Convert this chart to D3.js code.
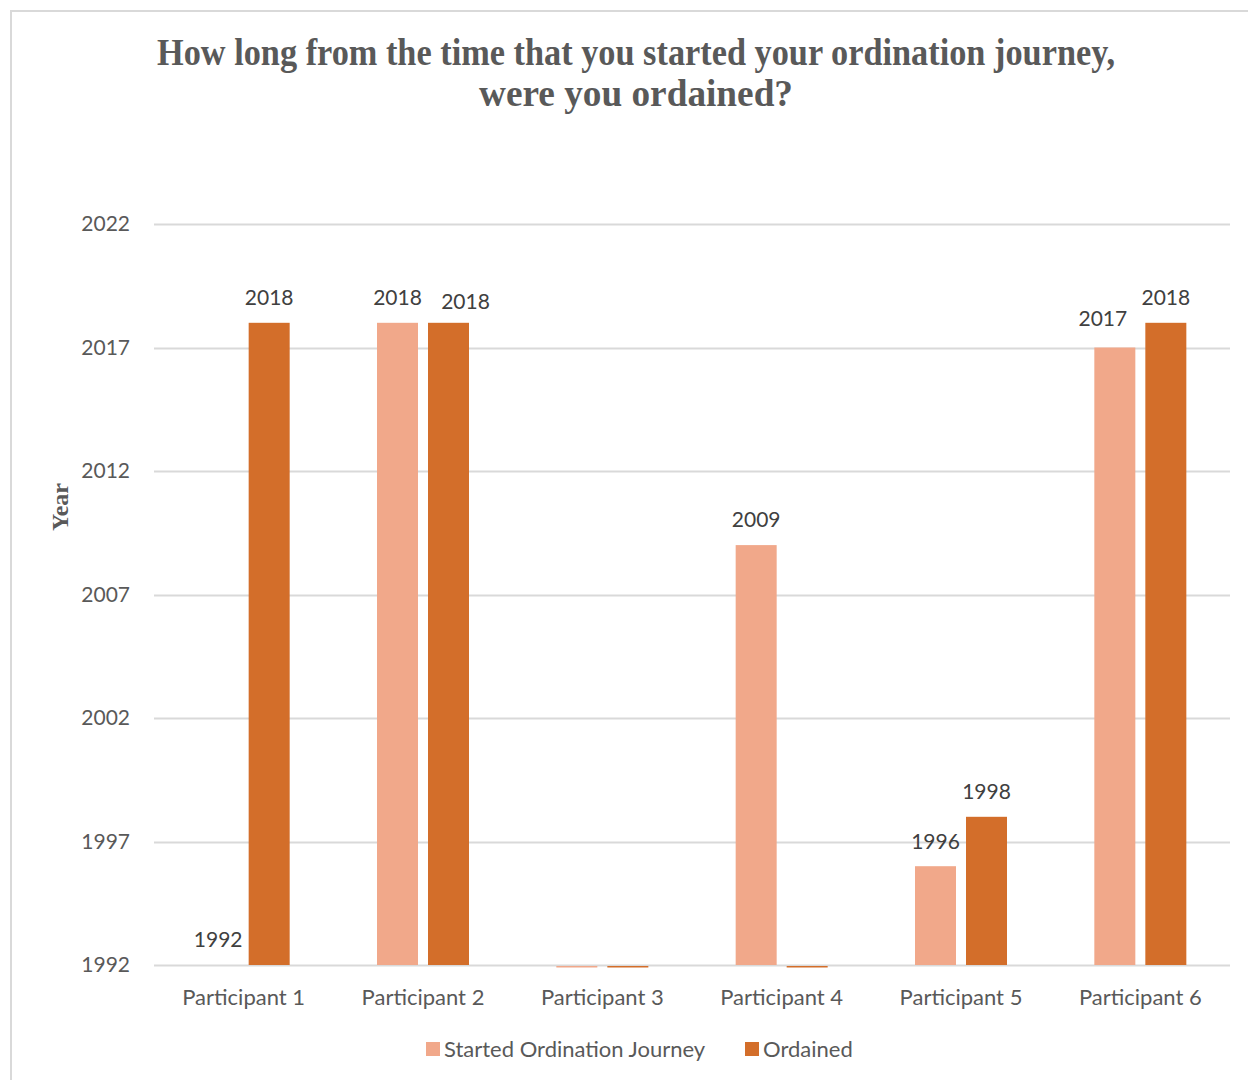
<!DOCTYPE html>
<html>
<head>
<meta charset="utf-8">
<script src="https://cdn.jsdelivr.net/npm/d3@7"></script>
<style>
  body { margin: 0; background: #fff; }
  svg text { font-family: Lato, "Open Sans", sans-serif; }
</style>
</head>
<body>
<div id="chart"></div>
<script>
// datos del grafico
const participants = ['Participant 1', 'Participant 2', 'Participant 3', 'Participant 4', 'Participant 5', 'Participant 6'];
const startedYears = [1992, 2018, null, 2009, 1996, 2017];
const ordainedYears = [2018, 2018, null, null, 1998, 2018];
const seriesNames = ['Started Ordination Journey', 'Ordained'];
const yTicks = [1992, 1997, 2002, 2007, 2012, 2017, 2022];

const colors = ['#F1A88A', '#D36E2A'];

var width = 1248;
var height = 1080;
var margin = { top: 224, right: 18, bottom: 115, left: 154 };

var svg = d3.select('#chart').append('svg')
    .attr('width', width)
    .attr('height', height);

// borde del grafico
svg.append('rect')
    .attr('x', 11).attr('y', 11)
    .attr('width', width + 20).attr('height', height + 20)
    .attr('fill', 'none')
    .attr('stroke', '#d9d9d9')
    .attr('stroke-width', 2);

// titulo
var titleLines = ['How long from the time that you started your ordination journey,', 'were you ordained?'];
var titleWidths = [958, 314];
svg.selectAll('text.title')
    .data(titleLines)
    .enter().append('text')
    .attr('class', 'title')
    .attr('x', 636)
    .attr('y', (d, i) => 65 + i * 41)
    .attr('text-anchor', 'middle')
    .attr('textLength', (d, i) => titleWidths[i])
    .attr('lengthAdjust', 'spacingAndGlyphs')
    .style('font-family', '"Liberation Serif", "Times New Roman", serif')
    .style('font-weight', 'bold')
    .style('font-size', '38px')
    .attr('fill', '#595959')
    .text(d => d);

var x = d3.scaleBand()
    .domain(participants)
    .range([margin.left, width - margin.right]);

var plotTop = margin.top;
var plotBottom = height - margin.bottom;

var y = d3.scaleLinear()
    .domain([1992, 2022])
    .range([plotBottom, plotTop]);

var barW = 41;
var barGap = 10;
function barX(i, s) {
    var c = x(participants[i]) + x.bandwidth() / 2;
    return s === 0 ? c - barGap / 2 - barW : c + barGap / 2;
}

// lineas de cuadricula
svg.selectAll('line.grid')
    .data(yTicks)
    .enter().append('line')
    .attr('class', 'grid')
    .attr('x1', margin.left)
    .attr('x2', width - margin.right)
    .attr('y1', d => Math.round(y(d)) + 0.5)
    .attr('y2', d => Math.round(y(d)) + 0.5)
    .attr('stroke', '#d9d9d9')
    .attr('stroke-width', 2);

// eje y
var yAxis = d3.axisLeft(y).tickValues(yTicks).tickSize(0).tickPadding(24).tickFormat(d3.format('d'));
var gy = svg.append('g')
    .attr('transform', 'translate(' + margin.left + ',0)')
    .call(yAxis);
gy.select('.domain').remove();
gy.selectAll('text')
    .style('font-size', '21px')
    .attr('fill', '#595959');

// eje x
var xAxis = d3.axisBottom(x).tickSize(0).tickPadding(24);
var gx = svg.append('g')
    .attr('transform', 'translate(0,' + plotBottom + ')')
    .call(xAxis);
gx.select('.domain').remove();
gx.selectAll('text')
    .style('font-size', '22px')
    .attr('fill', '#595959');

// barras
var series = [startedYears, ordainedYears];
series.forEach(function(values, s) {
    var g = svg.append('g');
    values.forEach(function(v, i) {
        if (v === null) {
            // valor vacio: solo una linea en la base
            g.append('rect')
                .attr('x', barX(i, s))
                .attr('y', y(1992) + 1)
                .attr('width', barW)
                .attr('height', 1.5)
                .attr('fill', colors[s]);
            return;
        }
        g.append('rect')
            .attr('x', barX(i, s))
            .attr('y', y(v))
            .attr('width', barW)
            .attr('height', y(1992) - y(v))
            .attr('fill', colors[s]);

        // evitar que las etiquetas se encimen
        var other = s === 0 ? ordainedYears[i] : startedYears[i];
        var dx = 0, off = 25;
        if (other !== null && Math.abs(y(v) - y(other)) < 30) {
            if (s === 0 && v < other) { dx = -12; off = 29; }
            if (s === 1 && v === other) { dx = 17; off = 21; }
        }
        g.append('text')
            .attr('x', barX(i, s) + barW / 2 + dx)
            .attr('y', y(v) - off)
            .attr('dy', '0.35em')
            .attr('text-anchor', 'middle')
            .style('font-size', '21px')
            .attr('fill', '#404040')
            .text(v);
    });
});

// etiqueta del eje y
svg.append('text')
    .attr('transform', 'translate(60,507) rotate(-90)')
    .attr('text-anchor', 'middle')
    .attr('dy', '0.35em')
    .style('font-family', '"Liberation Serif", "Times New Roman", serif')
    .style('font-weight', 'bold')
    .style('font-size', '24px')
    .attr('fill', '#595959')
    .text('Year');

// leyenda
var legend = svg.append('g').attr('transform', 'translate(0,1049)');
var legX = [426, 745];
seriesNames.forEach(function(name, s) {
    legend.append('rect')
        .attr('x', legX[s]).attr('y', -7)
        .attr('width', 14).attr('height', 14)
        .attr('fill', colors[s]);
    legend.append('text')
        .attr('x', legX[s] + 18)
        .attr('y', 0)
        .attr('dy', '0.35em')
        .style('font-size', '22px')
        .attr('fill', '#595959')
        .text(name);
});
</script>
</body>
</html>
